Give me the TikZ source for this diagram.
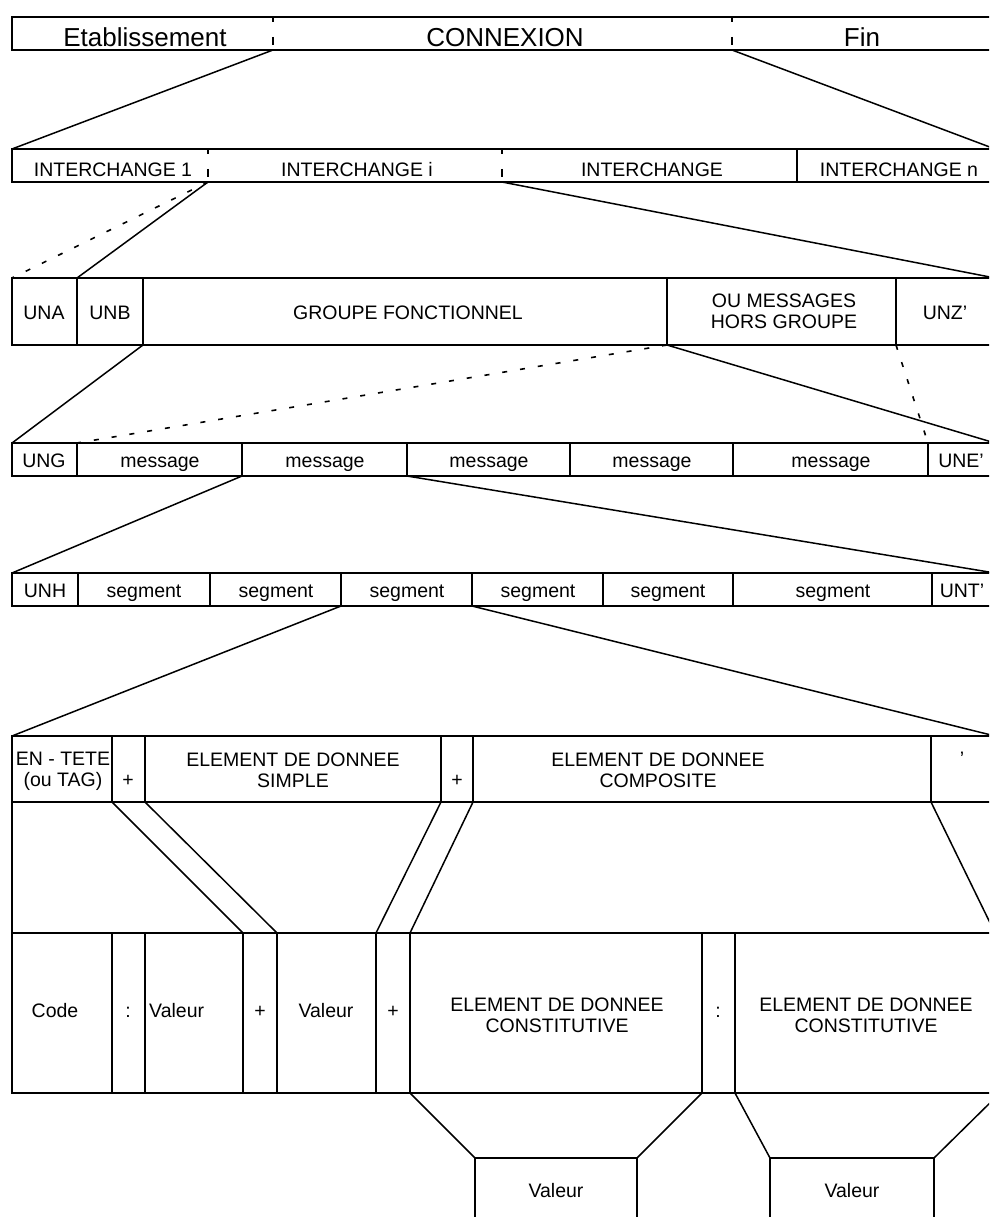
\documentclass[tikz,border=0pt]{standalone}
\usepackage{fontspec}
\setmainfont{Liberation Sans}
\usetikzlibrary{positioning,calc}

\tikzset{
  box/.style={line width=1.5pt},
  link/.style={line width=1.5pt},
  optlink/.style={line width=1.6pt, dash pattern=on 5pt off 13pt},
  tick/.style={line width=1.4pt, dash pattern=on 5pt off 15pt on 8pt off 20pt},
  lab/.style={font=\fontsize{19.5}{21}\selectfont, align=center, inner sep=0pt},
  biglab/.style={font=\fontsize{26}{29}\selectfont, inner sep=0pt},
}

\begin{document}
\begin{tikzpicture}[x=1pt, y=-1pt]

\useasboundingbox (0,0) rectangle (989,1217);
\clip (0,0) rectangle (989,1217);

% Row 1 : connexion
\draw[box] (12,17) rectangle (995,50);
\draw[tick] (273,17) -- (273,50);
\draw[tick] (732,17) -- (732,50);
\node[biglab, anchor=base] (etab) at (145,47) {Etablissement};
\node[biglab, anchor=base] (cnx) at (505,47) {CONNEXION};
\node[biglab, anchor=base] (fin) at (862,47) {Fin};
\coordinate (etabE) at (273,50);
\coordinate (finW) at (732,50);

% Row 2 : interchanges
\draw[box] (12,149) rectangle (995,182);
\draw[tick] (208,149) -- (208,182);
\draw[tick] (502,149) -- (502,182);
\draw[box] (797,149) -- (797,182);
\foreach \x/\t/\n in {113/INTERCHANGE 1/ic1, 357/INTERCHANGE i/ici,
                      652/INTERCHANGE/ic, 899/INTERCHANGE n/icn}
  \node[lab, anchor=base] (\n) at (\x,177) {\t};
\coordinate (icNW) at (12,149);
\coordinate (icNE) at (995,149);
\coordinate (iciW) at (208,182);
\coordinate (iciE) at (502,182);

% Row 3 : contenu d'un interchange
\draw[box] (12,278) rectangle (995,345);
\foreach \x in {77,143,667,896}
  \draw[box] (\x,278) -- (\x,345);
\foreach \x/\t/\n in {44/UNA/una, 110/UNB/unb, 408/GROUPE FONCTIONNEL/grp, 945/UNZ'/unz}
  \node[lab, anchor=base] (\n) at (\x,319) {\t};
\node[lab] (hors) at (784,311) {OU MESSAGES\\HORS GROUPE};
\coordinate (unaW) at (12,278);
\coordinate (unbW) at (77,278);
\coordinate (grpW) at (143,345);
\coordinate (grpE) at (667,345);
\coordinate (unzW) at (896,345);
\coordinate (grpNE) at (995,278);

% Row 4 : messages
\draw[box] (12,443) rectangle (995,476);
\foreach \x in {77,242,407,570,733,928}
  \draw[box] (\x,443) -- (\x,476);
\node[lab, anchor=base] (ung) at (44,467) {UNG};
\foreach \x [count=\i] in {160,325,489,652,831}
  \node[lab, anchor=base] (msg\i) at (\x,467) {message};
\node[lab, anchor=base] (une) at (961,467) {UNE'};
\coordinate (ungW) at (12,443);
\coordinate (msgW) at (77,443);
\coordinate (uneW) at (928,443);
\coordinate (msgNE) at (995,443);
\coordinate (msg2W) at (242,476);
\coordinate (msg2E) at (407,476);

% Row 5 : segments
\draw[box] (12,573) rectangle (995,606);
\foreach \x in {78,210,341,472,603,733,932}
  \draw[box] (\x,573) -- (\x,606);
\node[lab, anchor=base] (unh) at (45,597) {UNH};
\foreach \x [count=\i] in {144,276,407,538,668,833}
  \node[lab, anchor=base] (seg\i) at (\x,597) {segment};
\node[lab, anchor=base] (unt) at (962,597) {UNT'};
\coordinate (unhW) at (12,573);
\coordinate (segNE) at (995,573);
\coordinate (seg3W) at (341,606);
\coordinate (seg3E) at (472,606);

% Row 6 : structure d'un segment
\draw[box] (12,736) rectangle (995,802);
\foreach \x in {112,145,441,473,931}
  \draw[box] (\x,736) -- (\x,802);
\node[lab] (tag) at (63,771) {EN - TETE\\(ou TAG)};
\node[lab, anchor=base] (plusA) at (128,786) {+};
\node[lab] (simple) at (293,770) {ELEMENT DE DONNEE\\SIMPLE};
\node[lab, anchor=base] (plusB) at (457,786) {+};
\node[lab] (compo) at (658,770) {ELEMENT DE DONNEE\\COMPOSITE};
\node[lab, anchor=base] (apos) at (962,765) {'};
\coordinate (tagNW) at (12,736);
\coordinate (segSE) at (995,736);
\coordinate (plusAW) at (112,802);
\coordinate (plusAE) at (145,802);
\coordinate (plusBW) at (441,802);
\coordinate (plusBE) at (473,802);
\coordinate (aposW) at (931,802);
\coordinate (tagSW) at (12,802);
\coordinate (aposSE) at (995,802);

% Row 7 : detail des elements
\draw[box] (12,933) rectangle (995,1093);
\foreach \x in {112,145,243,277,376,410,702,735}
  \draw[box] (\x,933) -- (\x,1093);
\node[lab, anchor=base] (code) at (55,1017) {Code};
\node[lab, anchor=base] (colA) at (128,1017) {:};
\node[lab, anchor=base west] (valA) at (149,1017) {Valeur};
\node[lab, anchor=base] (plusC) at (260,1017) {+};
\node[lab, anchor=base] (valB) at (326,1017) {Valeur};
\node[lab, anchor=base] (plusD) at (393,1017) {+};
\node[lab] (constA) at (557,1015) {ELEMENT DE DONNEE\\CONSTITUTIVE};
\node[lab, anchor=base] (colB) at (718,1017) {:};
\node[lab] (constB) at (866,1015) {ELEMENT DE DONNEE\\CONSTITUTIVE};
\coordinate (codeNW) at (12,933);
\coordinate (codeNE) at (995,933);
\coordinate (plusCW) at (243,933);
\coordinate (plusCE) at (277,933);
\coordinate (plusDW) at (376,933);
\coordinate (plusDE) at (410,933);
\coordinate (constAW) at (410,1093);
\coordinate (constAE) at (702,1093);
\coordinate (constBW) at (735,1093);
\coordinate (constBE) at (1000,1093);

% Row 8 : valeurs
\coordinate (valCNW) at (475,1158);
\coordinate (valCNE) at (637,1158);
\coordinate (valDNW) at (770,1158);
\coordinate (valDNE) at (934,1158);
\draw[box] (475,1230) -- (valCNW) -- (valCNE) -- (637,1230);
\draw[box] (770,1230) -- (valDNW) -- (valDNE) -- (934,1230);
\node[lab, anchor=base] (valC) at (556,1197) {Valeur};
\node[lab, anchor=base] (valD) at (852,1197) {Valeur};

% Connectors between levels
\draw[link] (etabE) -- (icNW);
\draw[link] (finW) -- (icNE);
\draw[optlink] (iciW) -- (unaW);
\draw[link] (iciW) -- (unbW);
\draw[link] (iciE) -- (grpNE);
\draw[link] (grpW) -- (ungW);
\draw[optlink] (grpE) -- (msgW);
\draw[link] (grpE) -- (msgNE);
\draw[optlink] (unzW) -- (uneW);
\draw[link] (msg2W) -- (unhW);
\draw[link] (msg2E) -- (segNE);
\draw[link] (seg3W) -- (tagNW);
\draw[link] (seg3E) -- (segSE);
\draw[link] (plusAW) -- (plusCW);
\draw[link] (plusAE) -- (plusCE);
\draw[link] (plusBW) -- (plusDW);
\draw[link] (plusBE) -- (plusDE);
\draw[link] (aposW) -- (codeNE);
\draw[link] (tagSW) -- (codeNW);
\draw[link] (aposSE) -- (codeNE);
\draw[link] (constAW) -- (valCNW);
\draw[link] (constAE) -- (valCNE);
\draw[link] (constBW) -- (valDNW);
\draw[link] (constBE) -- (valDNE);

\end{tikzpicture}
\end{document}
